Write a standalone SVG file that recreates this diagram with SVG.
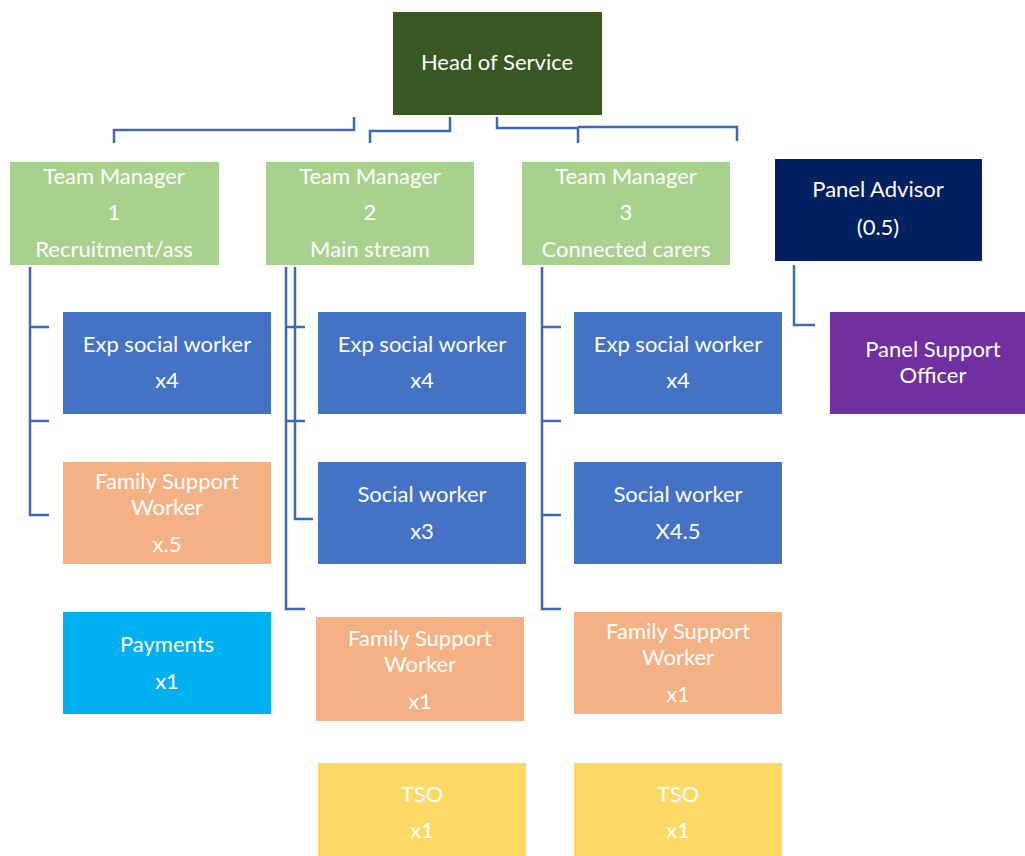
<svg xmlns="http://www.w3.org/2000/svg" width="1025" height="856" viewBox="0 0 1025 856">
<style>
.t{font-family:Lato,"Open Sans","Liberation Sans",sans-serif;font-size:22px;fill:#ffffff;text-anchor:middle}
.c{fill:none;stroke:#3E68B4;stroke-width:2.5}
.gm{fill:#A9D18E}
.bl{fill:#4472C4}
.or{fill:#F4B183}
.cy{fill:#00B0F0}
.ye{fill:#FFD966}
</style>
<rect width="1025" height="856" fill="#ffffff"/>
<g id="connectors">
<polyline class="c" points="114,143 114,130 354,130 354,117"/>
<polyline class="c" points="370,143 370,131 450,131 450,117"/>
<polyline class="c" points="497,117 497,128 578,128 578,143" stroke-width="4"/>
<polyline class="c" points="578,127 737,127 737,141"/>
<polyline class="c" points="30,267 30,515 49,515"/>
<line class="c" x1="30" y1="327" x2="49" y2="327"/>
<line class="c" x1="30" y1="421" x2="49" y2="421"/>
<polyline class="c" points="286,267 286,609 305,609"/>
<polyline class="c" points="295,267 295,519 313,519"/>
<line class="c" x1="286" y1="327" x2="305" y2="327"/>
<line class="c" x1="286" y1="421" x2="305" y2="421"/>
<polyline class="c" points="542,267 542,609 561,609"/>
<line class="c" x1="542" y1="327" x2="561" y2="327"/>
<line class="c" x1="542" y1="421" x2="561" y2="421"/>
<line class="c" x1="542" y1="515" x2="561" y2="515"/>
<polyline class="c" points="794,265 794,325 815,325"/>
</g>
<g id="head"><rect x="393" y="12" width="209" height="103" fill="#385723"/><text class="t" x="497" y="70">Head of Service</text></g>
<g id="tm1"><rect class="gm" x="10" y="162" width="209" height="103"/><text class="t" x="114" y="184">Team Manager</text><text class="t" x="114" y="220">1</text><text class="t" x="114" y="257">Recruitment/ass</text></g>
<g id="tm2"><rect class="gm" x="266" y="162" width="208" height="103"/><text class="t" x="370" y="184">Team Manager</text><text class="t" x="370" y="220">2</text><text class="t" x="370" y="257">Main stream</text></g>
<g id="tm3"><rect class="gm" x="522" y="162" width="208" height="103"/><text class="t" x="626" y="184">Team Manager</text><text class="t" x="626" y="220">3</text><text class="t" x="626" y="257">Connected carers</text></g>
<g id="panel-advisor"><rect x="775" y="159" width="207" height="102" fill="#002060"/><text class="t" x="878" y="197">Panel Advisor</text><text class="t" x="878" y="235">(0.5)</text></g>
<g id="panel-support"><rect x="830" y="312" width="195" height="102" fill="#7030A0"/><text class="t" x="933" y="357">Panel Support</text><text class="t" x="933" y="383">Officer</text></g>
<g id="c1-exp"><rect class="bl" x="63" y="312" width="208" height="102"/><text class="t" x="167" y="352">Exp social worker</text><text class="t" x="167" y="388">x4</text></g>
<g id="c1-fsw"><rect class="or" x="63" y="462" width="208" height="102"/><text class="t" x="167" y="489">Family Support</text><text class="t" x="167" y="515">Worker</text><text class="t" x="167" y="552">x.5</text></g>
<g id="c1-pay"><rect class="cy" x="63" y="612" width="208" height="102"/><text class="t" x="167" y="652">Payments</text><text class="t" x="167" y="689">x1</text></g>
<g id="c2-exp"><rect class="bl" x="318" y="312" width="208" height="102"/><text class="t" x="422" y="352">Exp social worker</text><text class="t" x="422" y="388">x4</text></g>
<g id="c2-sw"><rect class="bl" x="318" y="462" width="208" height="102"/><text class="t" x="422" y="502">Social worker</text><text class="t" x="422" y="539">x3</text></g>
<g id="c2-fsw"><rect class="or" x="316" y="617" width="208" height="104"/><text class="t" x="420" y="646">Family Support</text><text class="t" x="420" y="672">Worker</text><text class="t" x="420" y="709">x1</text></g>
<g id="c2-tso"><rect class="ye" x="318" y="763" width="208" height="93"/><text class="t" x="422" y="802">TSO</text><text class="t" x="422" y="838">x1</text></g>
<g id="c3-exp"><rect class="bl" x="574" y="312" width="208" height="102"/><text class="t" x="678" y="352">Exp social worker</text><text class="t" x="678" y="388">x4</text></g>
<g id="c3-sw"><rect class="bl" x="574" y="462" width="208" height="102"/><text class="t" x="678" y="502">Social worker</text><text class="t" x="678" y="539">X4.5</text></g>
<g id="c3-fsw"><rect class="or" x="574" y="612" width="208" height="102"/><text class="t" x="678" y="639">Family Support</text><text class="t" x="678" y="665">Worker</text><text class="t" x="678" y="702">x1</text></g>
<g id="c3-tso"><rect class="ye" x="574" y="763" width="208" height="93"/><text class="t" x="678" y="802">TSO</text><text class="t" x="678" y="838">x1</text></g>
</svg>
